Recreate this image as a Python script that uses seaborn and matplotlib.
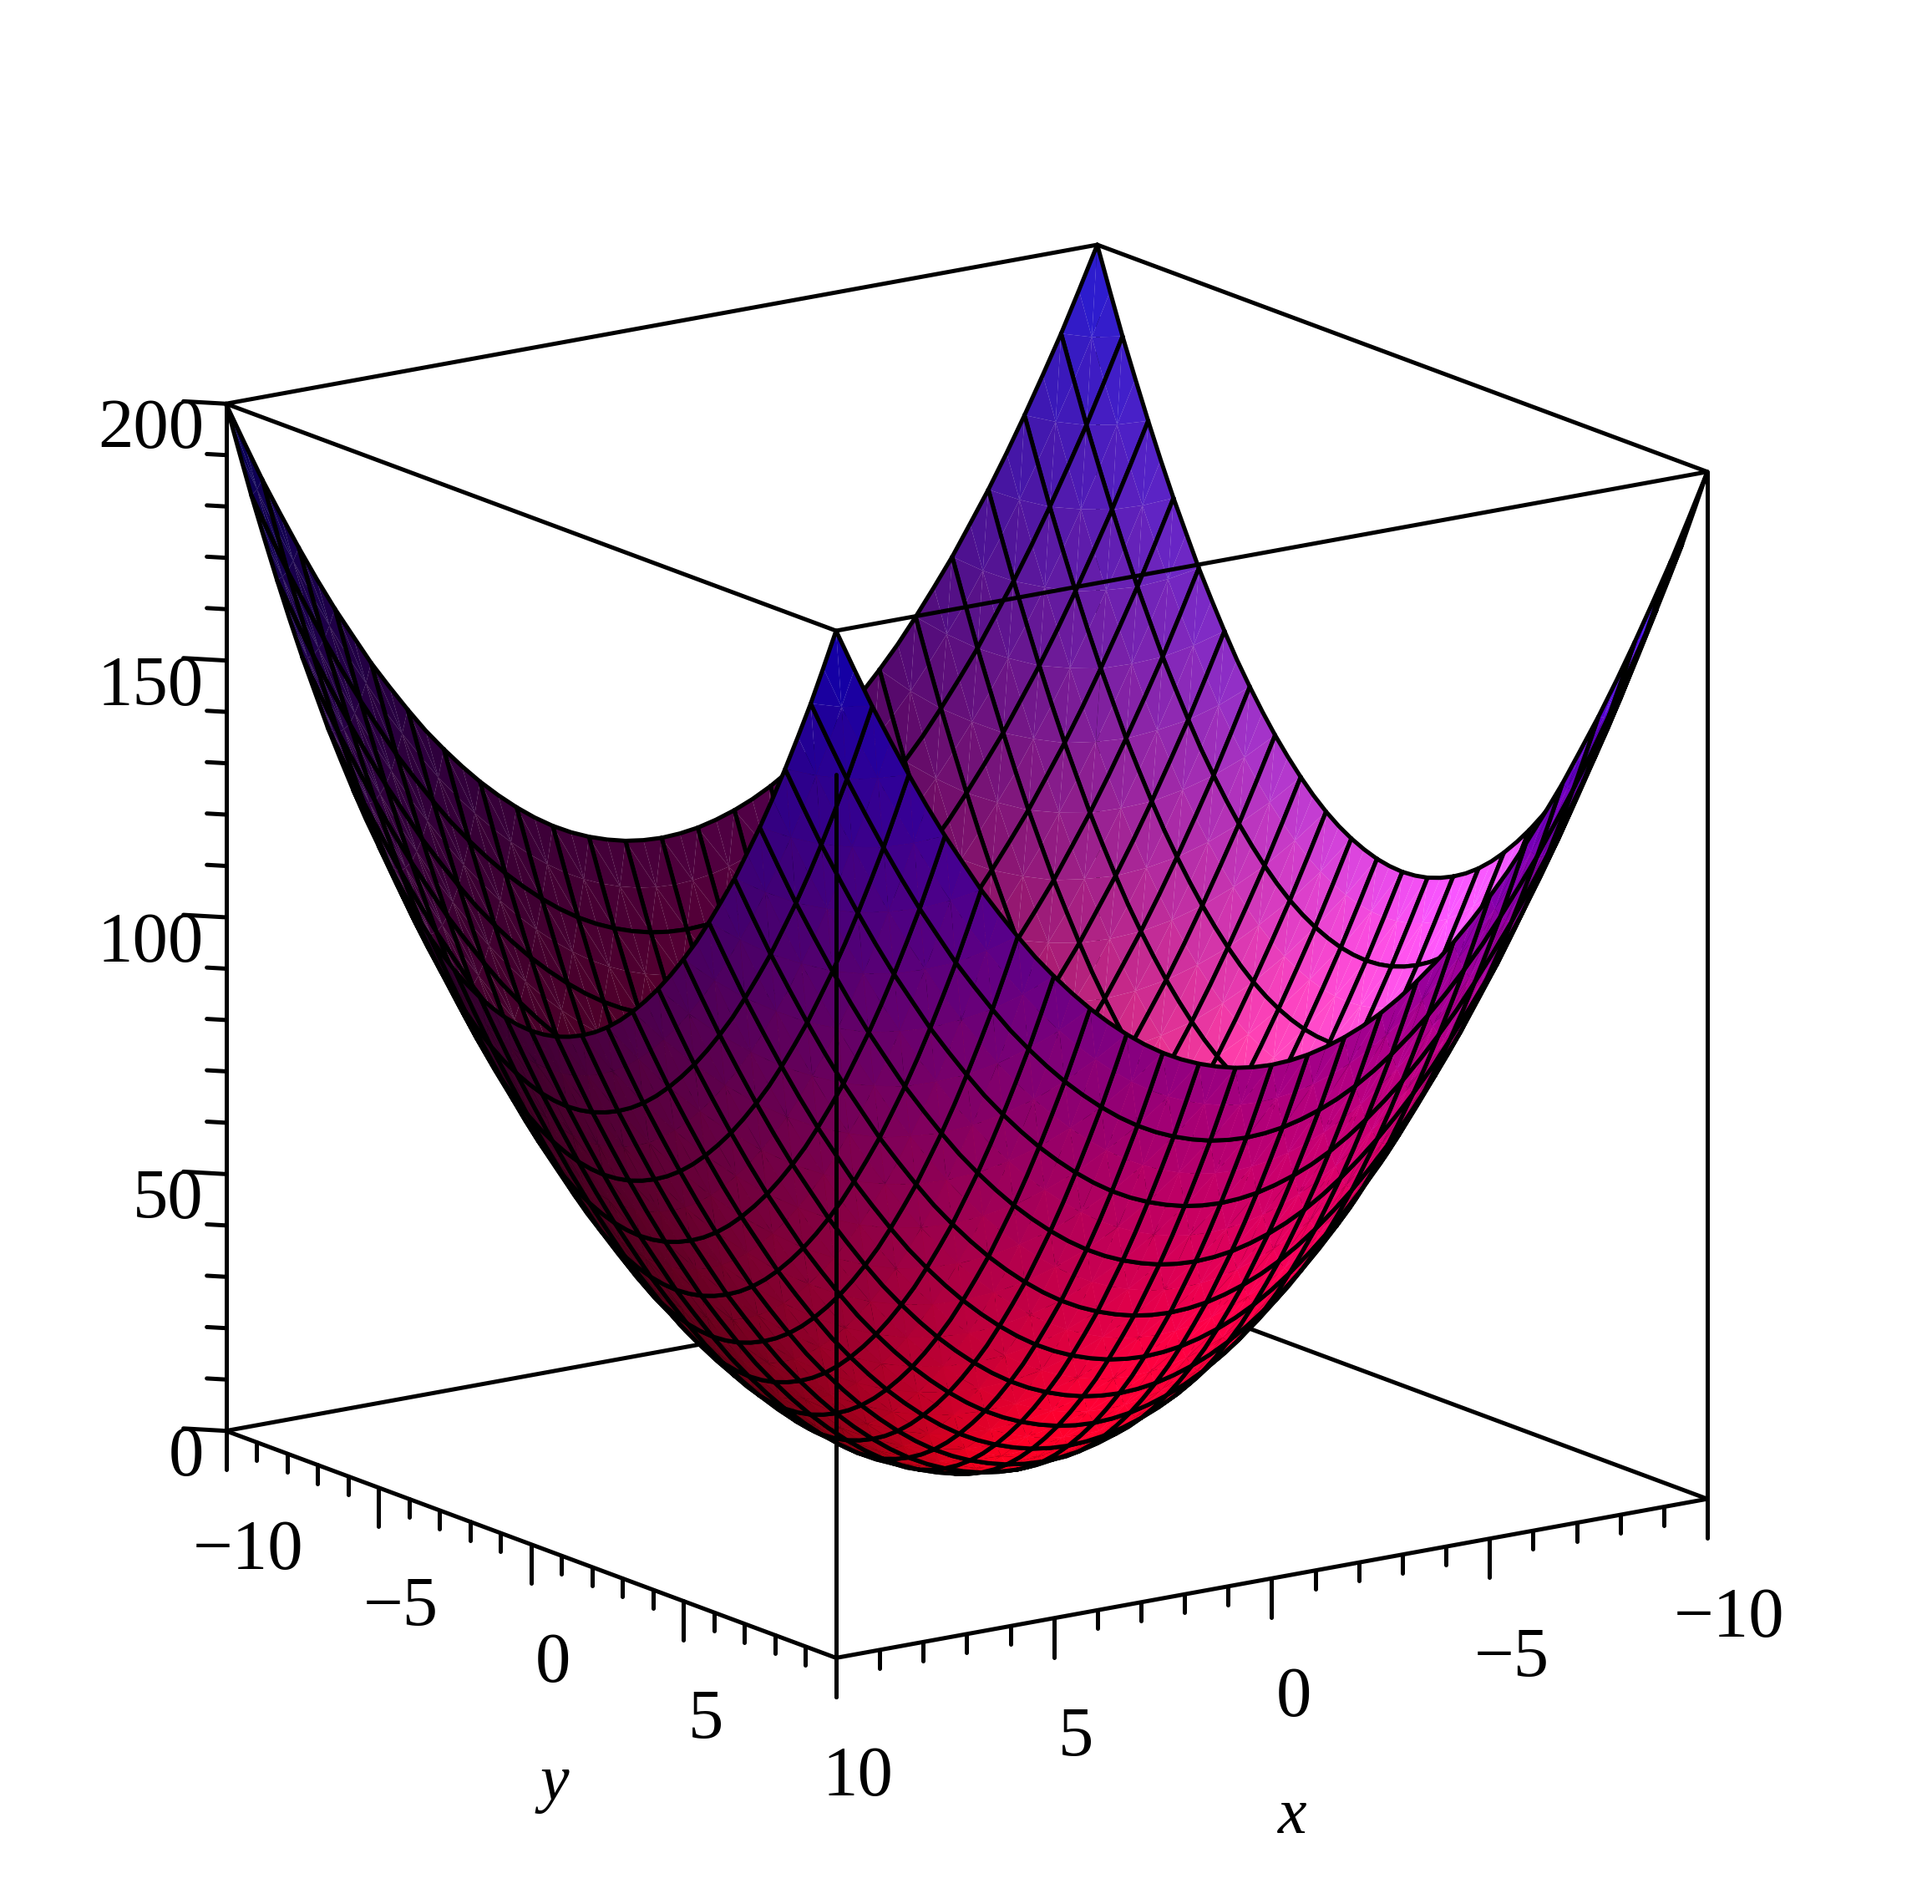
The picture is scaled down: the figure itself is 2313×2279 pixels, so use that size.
import numpy as np
import matplotlib
matplotlib.use('Agg')
import matplotlib.pyplot as plt
import seaborn as sns
from mpl_toolkits.mplot3d import proj3d
from mpl_toolkits.mplot3d.art3d import Poly3DCollection

### Data ###

# grid of the surface up to the middle, the other half is the mirror image
grid_half = [-10, -9.58, -9.17, -8.75, -8.33, -7.92, -7.5, -7.08, -6.67, -6.25, -5.83, -5.42, -5,
             -4.58, -4.17, -3.75, -3.33, -2.92, -2.5, -2.08, -1.67, -1.25, -0.83, -0.42, 0]

# heights of one quarter of the bowl (the other three are mirror images)
z_quarter = [
    [200,191.8,184,176.6,169.4,162.7,156.2,150.2,144.4,139.1,134,129.3,125,121,117.4,114.1,111.1,108.5,106.2,104.3,102.8,101.6,100.7,100.2,100],
    [191.8,183.6,175.8,168.4,161.2,154.5,148,142,136.2,130.9,125.8,121.1,116.8,112.8,109.2,105.9,102.9,100.3,98,96.1,94.6,93.4,92.5,92,91.8],
    [184,175.8,168,160.6,153.4,146.7,140.2,134.2,128.4,123.1,118,113.3,109,105,101.4,98.1,95.1,92.5,90.2,88.3,86.8,85.6,84.7,84.2,84],
    [176.6,168.4,160.6,153.2,146,139.3,132.8,126.8,121,115.7,110.6,105.9,101.6,97.6,94,90.7,87.7,85.1,82.8,80.9,79.4,78.2,77.3,76.8,76.6],
    [169.4,161.2,153.4,146,138.8,132.1,125.6,119.6,113.8,108.5,103.4,98.7,94.4,90.4,86.8,83.5,80.5,77.9,75.6,73.7,72.2,71,70.1,69.6,69.4],
    [162.7,154.5,146.7,139.3,132.1,125.4,118.9,112.9,107.1,101.8,96.7,92,87.7,83.7,80.1,76.8,73.8,71.2,68.9,67,65.5,64.3,63.4,62.9,62.7],
    [156.2,148,140.2,132.8,125.6,118.9,112.4,106.4,100.6,95.3,90.2,85.5,81.2,77.2,73.6,70.3,67.3,64.7,62.4,60.5,59,57.8,56.9,56.4,56.2],
    [150.2,142,134.2,126.8,119.6,112.9,106.4,100.4,94.6,89.3,84.2,79.5,75.2,71.2,67.6,64.3,61.3,58.7,56.4,54.5,53,51.8,50.9,50.4,50.2],
    [144.4,136.2,128.4,121,113.8,107.1,100.6,94.6,88.8,83.5,78.4,73.7,69.4,65.4,61.8,58.5,55.5,52.9,50.6,48.7,47.2,46,45.1,44.6,44.4],
    [139.1,130.9,123.1,115.7,108.5,101.8,95.3,89.3,83.5,78.2,73.1,68.4,64.1,60.1,56.5,53.2,50.2,47.6,45.3,43.4,41.9,40.7,39.8,39.3,39.1],
    [134,125.8,118,110.6,103.4,96.7,90.2,84.2,78.4,73.1,68,63.3,59,55,51.4,48.1,45.1,42.5,40.2,38.3,36.8,35.6,34.7,34.2,34],
    [129.3,121.1,113.3,105.9,98.7,92,85.5,79.5,73.7,68.4,63.3,58.6,54.3,50.3,46.7,43.4,40.4,37.8,35.5,33.6,32.1,30.9,30,29.5,29.3],
    [125,116.8,109,101.6,94.4,87.7,81.2,75.2,69.4,64.1,59,54.3,50,46,42.4,39.1,36.1,33.5,31.2,29.3,27.8,26.6,25.7,25.2,25],
    [121,112.8,105,97.6,90.4,83.7,77.2,71.2,65.4,60.1,55,50.3,46,42,38.4,35.1,32.1,29.5,27.2,25.3,23.8,22.6,21.7,21.2,21],
    [117.4,109.2,101.4,94,86.8,80.1,73.6,67.6,61.8,56.5,51.4,46.7,42.4,38.4,34.8,31.5,28.5,25.9,23.6,21.7,20.2,19,18.1,17.6,17.4],
    [114.1,105.9,98.1,90.7,83.5,76.8,70.3,64.3,58.5,53.2,48.1,43.4,39.1,35.1,31.5,28.2,25.2,22.6,20.3,18.4,16.9,15.7,14.8,14.3,14.1],
    [111.1,102.9,95.1,87.7,80.5,73.8,67.3,61.3,55.5,50.2,45.1,40.4,36.1,32.1,28.5,25.2,22.2,19.6,17.3,15.4,13.9,12.7,11.8,11.3,11.1],
    [108.5,100.3,92.5,85.1,77.9,71.2,64.7,58.7,52.9,47.6,42.5,37.8,33.5,29.5,25.9,22.6,19.6,17,14.7,12.8,11.3,10.1,9.2,8.7,8.5],
    [106.2,98,90.2,82.8,75.6,68.9,62.4,56.4,50.6,45.3,40.2,35.5,31.2,27.2,23.6,20.3,17.3,14.7,12.4,10.5,9,7.8,6.9,6.4,6.2],
    [104.3,96.1,88.3,80.9,73.7,67,60.5,54.5,48.7,43.4,38.3,33.6,29.3,25.3,21.7,18.4,15.4,12.8,10.5,8.6,7.1,5.9,5,4.5,4.3],
    [102.8,94.6,86.8,79.4,72.2,65.5,59,53,47.2,41.9,36.8,32.1,27.8,23.8,20.2,16.9,13.9,11.3,9,7.1,5.6,4.4,3.5,3,2.8],
    [101.6,93.4,85.6,78.2,71,64.3,57.8,51.8,46,40.7,35.6,30.9,26.6,22.6,19,15.7,12.7,10.1,7.8,5.9,4.4,3.2,2.3,1.8,1.6],
    [100.7,92.5,84.7,77.3,70.1,63.4,56.9,50.9,45.1,39.8,34.7,30,25.7,21.7,18.1,14.8,11.8,9.2,6.9,5,3.5,2.3,1.4,0.9,0.7],
    [100.2,92,84.2,76.8,69.6,62.9,56.4,50.4,44.6,39.3,34.2,29.5,25.2,21.2,17.6,14.3,11.3,8.7,6.4,4.5,3,1.8,0.9,0.4,0.2],
    [100,91.8,84,76.6,69.4,62.7,56.2,50.2,44.4,39.1,34,29.3,25,21,17.4,14.1,11.1,8.5,6.2,4.3,2.8,1.6,0.7,0.2,0],
]

xy_major = [-10, -5, 0, 5, 10]
xy_minor = [-9, -8, -7, -6, -4, -3, -2, -1, 1, 2, 3, 4, 6, 7, 8, 9]
z_major = [0, 50, 100, 150, 200]
z_minor = [10, 20, 30, 40, 60, 70, 80, 90, 110, 120, 130, 140, 160, 170, 180, 190]
# x = 10 shares its label with y = 10 at the corner
x_tick_labels = ['\u221210', '\u22125', '0', '5']
y_tick_labels = ['\u221210', '\u22125', '0', '5', '10']
z_tick_labels = ['0', '50', '100', '150', '200']

### Style ###

sns.set_theme(style='white')
plt.rcParams['font.family'] = ['Liberation Serif', 'DejaVu Serif']
plt.rcParams['text.color'] = 'black'

height_cmap = sns.blend_palette(['#ff0018', '#1000cc'], as_cmap=True)

ELEV = 15.1
AZIM = 55
LW = 3.6
FONT = 61

el, az = np.radians(ELEV), np.radians(AZIM)
view = np.array([np.cos(el) * np.cos(az), np.cos(el) * np.sin(az), np.sin(el)])


def shade(grid, Z):
    """ Colour of each node: ramp on the height, with a fake light on top """
    dz_dy, dz_dx = np.gradient(Z, grid, grid)
    norm = np.sqrt(dz_dx**2 + dz_dy**2 + 1)
    nx, ny, nz = -dz_dx / norm, -dz_dy / norm, 1 / norm
    facing = nx * view[0] + ny * view[1] + nz * view[2]

    f = 0.75 + 0.3 * nx - 0.4 * ny + 0.32 * nz
    f = f + 0.17 * (facing > 0)
    rgb = height_cmap(Z / 200)[..., :3] * f[..., None]

    s = np.clip((f - 0.65) / 0.68, 0, 1) * (facing > 0)
    rgb = rgb + s[..., None] * np.array([0.3, 0.35, 0.45])
    return np.clip(rgb, 0, 1)


def label(x, y, z, text, **kw):
    """ Flat text placed at the projection of a 3d point """
    px, py, _ = proj3d.proj_transform(x, y, z, ax.get_proj())
    ax.text2D(px, py, text, transform=ax.transData, va='center', zorder=4, **kw)


### Plot ###

fig = plt.figure(figsize=(23.13, 22.79), dpi=100, facecolor='white')
ax = fig.add_axes([-30 / 2313, -30 / 2279, 1, 1], projection='3d', proj_type='ortho',
                  computed_zorder=False)
ax.view_init(elev=ELEV, azim=AZIM)
ax.set_box_aspect((1, 1, 1), zoom=0.9395)
ax.set_xlim(-10, 10, view_margin=0)
ax.set_ylim(-10, 10, view_margin=0)
ax.set_zlim(0, 200, view_margin=0)
ax.set_xticks([])
ax.set_yticks([])
ax.set_zticks([])
ax.set_axis_off()

grid = np.array(grid_half + [-v for v in grid_half[-2::-1]])
q = np.array(z_quarter)
top = np.hstack([q, q[:, -2::-1]])
Z = np.vstack([top, top[-2::-1]])
X, Y = np.meshgrid(grid, grid)
node_rgb = shade(grid, Z)

# box edges which lie behind the surface
for xs, ys, zs in [([-10, -10], [-10, 10], [0, 0]),
                   ([-10, 10], [-10, -10], [0, 0]),
                   ([-10, -10], [-10, -10], [0, 200]),
                   ([-10, -10], [-10, 10], [200, 200]),
                   ([-10, 10], [-10, -10], [200, 200])]:
    ax.plot(xs, ys, zs, color='black', lw=LW, zorder=1)

# Each mesh cell (2x2 nodes of the table) is a fan of flat triangles + its black outline.
# The depth order of the cells is done here as the outline has to stay over its own fill.
ring = [(0, 0), (0, 1), (0, 2), (1, 2), (2, 2), (2, 1), (2, 0), (1, 0)]
cells = [(i, j) for i in range(0, 48, 2) for j in range(0, 48, 2)]
depth = [X[i + 1, j + 1] / 20 * view[0] + Y[i + 1, j + 1] / 20 * view[1] + Z[i + 1, j + 1] / 200 * view[2]
         for i, j in cells]
order = np.argsort(depth)

for rank, idx in enumerate(order):
    i, j = cells[idx]
    zo = 1.5 + rank / len(cells)
    nodes = [(i + a, j + b) for a, b in ring]
    ci, cj = i + 1, j + 1
    tris = []
    cols = []
    for k in range(8):
        p, r = nodes[k], nodes[(k + 1) % 8]
        tris.append([(X[n], Y[n], Z[n]) for n in (p, r, (ci, cj))])
        cols.append((node_rgb[p] + node_rgb[r] + node_rgb[ci, cj]) / 3)
    fill = Poly3DCollection(tris, facecolors=cols, edgecolors=cols, linewidths=0.08, zorder=zo)
    ax.add_collection3d(fill, autolim=False)
    loop = nodes + nodes[:1]
    ax.plot([X[n] for n in loop], [Y[n] for n in loop], [Z[n] for n in loop], color='black', lw=LW,
            solid_joinstyle='round', zorder=zo + 0.5 / len(cells))

# box edges in front of it
for xs, ys, zs in [([10, 10], [-10, 10], [0, 0]),
                   ([-10, 10], [10, 10], [0, 0]),
                   ([10, 10], [-10, -10], [0, 200]),
                   ([-10, -10], [10, 10], [0, 200]),
                   ([10, 10], [10, 10], [0, 172]),
                   ([10, 10], [-10, 10], [200, 200]),
                   ([-10, 10], [10, 10], [200, 200])]:
    ax.plot(xs, ys, zs, color='black', lw=LW, zorder=3)

# ticks
for v in xy_major + xy_minor:
    length = 7.6 if v in xy_major else 3.6
    ax.plot([v, v], [10, 10], [0, -length], color='black', lw=LW, zorder=3)
    ax.plot([10, 10], [v, v], [0, -length], color='black', lw=LW, zorder=3)
for v in z_major + z_minor:
    k = 1 if v in z_major else 0.45
    ax.plot([10, 10 + 0.555 * k], [-10, -10 - 0.603 * k], [v, v], color='black', lw=LW, zorder=3)

# tick labels
for v, lab in zip(xy_major, x_tick_labels):
    label(v - 0.341, 10 + 0.238, -23.5, lab, fontsize=FONT, ha='center')
for v, lab in zip(xy_major, y_tick_labels):
    label(10 - 0.341, v + 0.238, -23.5, lab, fontsize=FONT, ha='center')
for v, lab in zip(z_major, z_tick_labels):
    label(10 + 0.28, -10 - 0.33, v - 5.6, lab, fontsize=FONT, ha='right')

# axis names
label(-0.31, 10.24, -46.4, 'x', fontsize=FONT - 5, style='italic', ha='center')
label(9.355, -0.15, -47.9, 'y', fontsize=FONT - 5, style='italic', ha='center')

fig.savefig('out.png', dpi=100, facecolor='white')
